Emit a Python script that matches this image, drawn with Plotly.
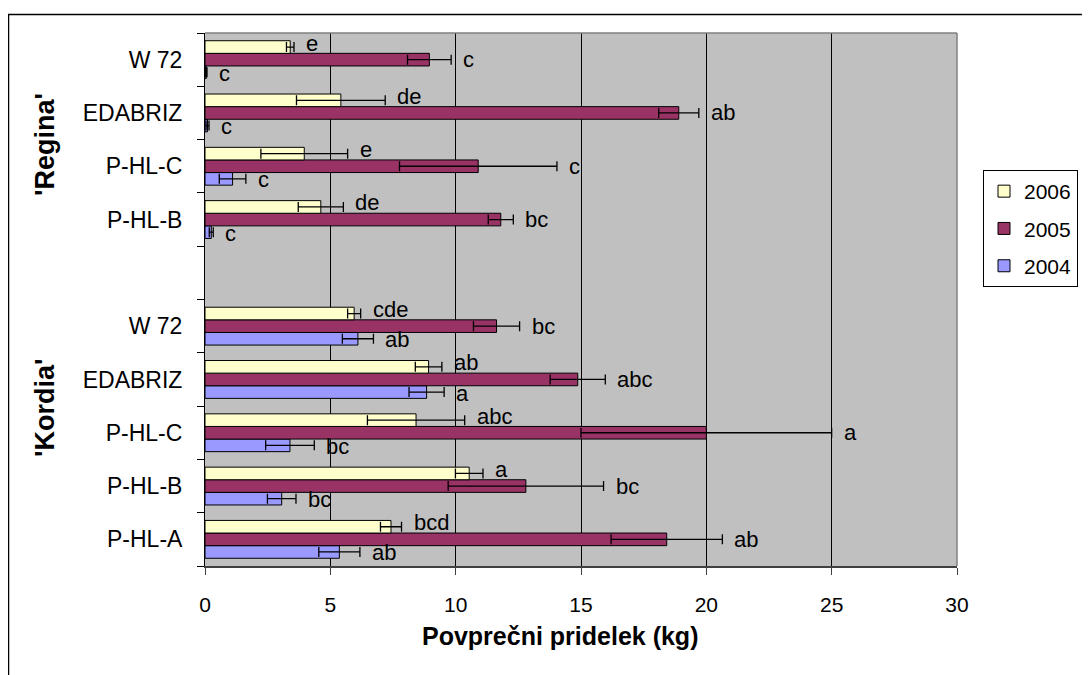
import plotly.graph_objects as go

# ---- data (bottom to top, as in the chart) ----
cultivar = ["Kordia", "Kordia", "Kordia", "Kordia", "Kordia", "", "Regina", "Regina", "Regina", "Regina"]
rows = ["P-HL-A", "P-HL-B", "P-HL-C", "EDABRIZ", "W 72", "", "P-HL-B", "P-HL-C", "EDABRIZ", "W 72"]

y2006 = [7.42, 10.54, 8.42, 8.92, 5.95, None, 4.62, 3.96, 5.42, 3.40]
e2006 = [0.42, 0.55, 1.94, 0.53, 0.26, None, 0.90, 1.73, 1.77, 0.15]
l2006 = ["bcd", "a", "abc", "ab", "cde", "", "de", "e", "de", "e"]

y2005 = [18.42, 12.80, 20.00, 14.87, 11.63, None, 11.80, 10.90, 18.90, 8.95]
e2005 = [2.22, 3.10, 5.00, 1.10, 0.92, None, 0.50, 3.14, 0.80, 0.87]
l2005 = ["ab", "bc", "a", "abc", "bc", "", "bc", "c", "ab", "c"]

y2004 = [5.36, 3.06, 3.39, 8.84, 6.10, None, 0.25, 1.10, 0.10, 0.05]
e2004 = [0.82, 0.57, 0.97, 0.70, 0.62, None, 0.08, 0.53, 0.06, 0.03]
l2004 = ["ab", "bc", "bc", "a", "ab", "", "c", "c", "c", "c"]

x_ticks = [0, 5, 10, 15, 20, 25, 30]
x_title = "Povprečni pridelek (kg)"
group_titles = ["'Regina'", "'Kordia'"]

# ---- figure ----
keys = [f"{c}|{r}|{i}" for i, (c, r) in enumerate(zip(cultivar, rows))]
FONT = "Arial, Liberation Sans, sans-serif"
BARGAP = 0.29
series = [
    ("2004", y2004, e2004, l2004, "#9999FF", -1, -1, 3),
    ("2005", y2005, e2005, l2005, "#993366", 0, 0, 2),
    ("2006", y2006, e2006, l2006, "#FFFFCC", 1, 4, 1),
]

fig = go.Figure()
annotations = []
bw = (1 - BARGAP) / 3
for name, vals, errs, labs, color, k, ysh, rank in series:
    fig.add_trace(go.Bar(
        y=keys, x=vals, orientation="h", name=name, legendgroup=name, legendrank=rank,
        marker=dict(color=color, line=dict(color="black", width=1)),
        error_x=dict(type="data", array=errs, visible=True, color="black",
                     thickness=1.3, width=5),
    ))
    for i, (v, e, t) in enumerate(zip(vals, errs, labs)):
        if v is None or not t:
            continue
        annotations.append(dict(
            x=v + e, y=i + k * bw, xref="x", yref="y", text=t,
            showarrow=False, xanchor="left", yanchor="middle",
            xshift=10, yshift=ysh, font=dict(size=22, color="black", family=FONT),
        ))

# page body adds an 8px margin: work in window pixels, convert to figure pixels
OFF = 8
W, H = 1082, 667
L, T = 205 - OFF, 33 - OFF
RIGHT, BOTTOM = 957 - OFF, 566 - OFF
pw, ph = RIGHT - L, BOTTOM - T

def px(xw):
    return (xw - OFF - L) / pw

def py(yw):
    return (BOTTOM - (yw - OFF)) / ph

annotations.append(dict(x=px(560), y=py(636), xref="paper", yref="paper",
                        xanchor="center", yanchor="middle",
                        text=f"<b>{x_title}</b>", showarrow=False,
                        font=dict(size=25, family=FONT, color="black")))
annotations.append(dict(x=px(45), y=py(145), xref="paper", yref="paper",
                        xanchor="center", yanchor="middle",
                        text=f"<b>{group_titles[0]}</b>", showarrow=False, textangle=-90,
                        font=dict(size=27, family=FONT, color="black")))
annotations.append(dict(x=px(45), y=py(408), xref="paper", yref="paper",
                        xanchor="center", yanchor="middle",
                        text=f"<b>{group_titles[1]}</b>", showarrow=False, textangle=-90,
                        font=dict(size=27, family=FONT, color="black")))

shapes = [
    dict(type="rect", xref="paper", yref="paper", x0=px(8.5), x1=px(1110),
         y0=py(700), y1=py(14.5), line=dict(color="black", width=1.5)),
    dict(type="line", xref="paper", yref="paper", x0=0, x1=1, y0=1, y1=1,
         line=dict(color="#808080", width=1.5)),
    dict(type="line", xref="paper", yref="paper", x0=1, x1=1, y0=0, y1=1,
         line=dict(color="#808080", width=1.5)),
]

fig.update_layout(
    width=W, height=H,
    margin=dict(l=L, r=W - RIGHT, t=T, b=H - BOTTOM, pad=0, autoexpand=False),
    paper_bgcolor="white", plot_bgcolor="#C0C0C0",
    barmode="group", bargap=BARGAP, bargroupgap=0,
    font=dict(family=FONT, size=20, color="black"),
    annotations=annotations, shapes=shapes,
    legend=dict(x=px(983), y=py(170), xanchor="left", yanchor="top",
                traceorder="grouped", tracegroupgap=7,
                bordercolor="black", borderwidth=1, bgcolor="white",
                font=dict(size=21, family=FONT, color="black")),
    xaxis=dict(range=[0, 30], tickmode="array", tickvals=x_ticks,
               showgrid=True, gridcolor="black", gridwidth=1, zeroline=False,
               showline=True, linecolor="#404040", linewidth=2,
               ticks="outside", ticklen=7, tickcolor="#404040", tickwidth=1,
               ticklabelstandoff=12, tickfont=dict(size=21)),
    yaxis=dict(type="category", categoryorder="array", categoryarray=keys,
               tickmode="array", tickvals=keys, ticktext=rows,
               tickson="boundaries", ticks="outside", ticklen=7,
               tickcolor="black", showline=True, linecolor="black", linewidth=1,
               showgrid=False, range=[-0.5, 9.5], ticklabelstandoff=17,
               tickfont=dict(size=23)),
    showlegend=True,
)

fig.write_html("out.html")
